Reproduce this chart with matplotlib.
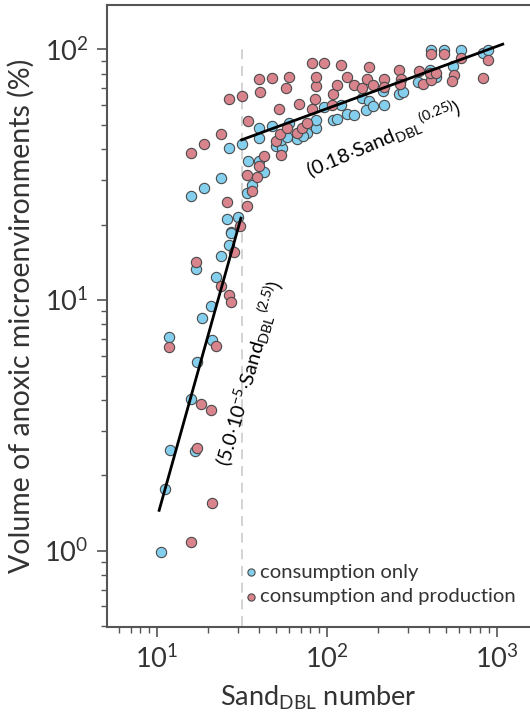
import matplotlib
matplotlib.use("Agg")
from matplotlib import pyplot as plt

plt.rcParams["font.family"] = ["Lato", "DejaVu Sans"]
plt.rcParams["mathtext.fontset"] = "custom"
plt.rcParams["mathtext.rm"] = "Lato"
plt.rcParams["mathtext.it"] = "Lato:italic"
plt.rcParams["mathtext.bf"] = "Lato:bold"

# consumption only
cons_x = [26.6, 31.5, 15.8, 18.9, 23.7, 34.2, 33.7, 36.1, 40.0, 42.6, 30.2, 25.9, 27.4,
          40.0, 40.0, 47.5, 50.1, 54.8, 53.4, 59.5, 57.9, 66.8, 76.6, 72.6, 86.9, 86.1,
          95.9, 121, 109, 114, 131, 144, 162, 176, 171, 186, 217, 215, 266, 279, 346,
          403, 438, 413, 490, 620, 553, 830, 889,
          27.2, 26.4, 23.9, 16.9, 22.3, 20.8, 18.3, 11.8, 21.1, 17.1, 15.9, 12.0, 16.7,
          11.1, 10.5]
cons_y = [40.4, 41.7, 26.0, 27.9, 30.6, 35.7, 26.8, 28.7, 35.7, 32.4, 21.5, 21.1, 18.7,
          48.4, 44.3, 49.5, 41.2, 40.3, 43.5, 50.7, 44.6, 43.8, 46.3, 45.1, 48.4, 52.3,
          58.7, 59.8, 52.3, 52.6, 55.1, 54.6, 63.8, 62.1, 57.3, 59.1, 59.8, 68.4, 66.4,
          67.4, 74.3, 82.7, 77.3, 99.4, 99.4, 99.4, 85.8, 96.9, 99.4,
          18.5, 16.5, 15.0, 13.3, 12.3, 9.46, 8.50, 7.14, 6.95, 5.64, 4.04, 2.52, 2.49,
          1.77, 0.987]

# consumption and production
prod_x = [15.8, 18.9, 23.7, 26.6, 31.5, 34.2, 25.9, 33.7, 36.1, 38.6, 40.0, 42.6, 33.9,
          31.0, 40.2, 40.0, 47.5, 59.8, 57.6, 52.0, 68.2, 50.1, 52.7, 53.4, 58.3, 66.8,
          71.3, 76.6, 81.3, 107, 85.3, 109, 114, 86.1, 86.1, 81.3, 95.9, 121, 131, 144,
          162, 176, 173, 186, 217, 217, 266, 275, 271, 348, 366, 409, 407, 438, 413,
          490, 620, 561, 548, 830, 889,
          28.4, 16.9, 23.9, 26.4, 27.1, 11.8, 22.4, 18.2, 20.8, 17.1, 21.1, 15.9]
prod_y = [38.5, 41.8, 45.7, 63.2, 65.0, 51.5, 24.5, 31.4, 27.3, 30.9, 34.3, 37.6, 23.8,
          19.8, 67.4, 76.4, 77.1, 77.8, 69.9, 57.5, 60.5, 43.2, 45.7, 37.8, 48.4, 46.3,
          48.7, 50.7, 57.7, 59.8, 63.2, 66.4, 72.1, 71.4, 77.8, 87.9, 87.9, 86.6, 77.3,
          72.3, 69.9, 85.2, 76.4, 72.3, 76.2, 70.6, 82.7, 75.9, 72.7, 81.7, 72.7, 75.5,
          80.7, 80.3, 95.5, 95.5, 92.6, 79.0, 74.6, 76.6, 90.6,
          15.6, 14.2, 11.4, 10.5, 9.85, 6.47, 6.58, 3.85, 3.65, 2.56, 1.55, 1.08]

# fitted power laws, drawn between their end points
fit_low_x = [10.3, 31.2]
fit_low_y = [1.45, 21.2]
fit_high_x = [31.5, 1085]
fit_high_y = [43.5, 104.7]
threshold = 31.5

blue = "#84cfee"
pink = "#d9838c"

fig = plt.figure(figsize=(5.30, 7.19), dpi=100)
ax = fig.add_axes([0.2013, 0.128, 0.7987, 0.865])

ax.plot([threshold, threshold], [0.5, 106], color="#cccccc", lw=1.2, ls=(0, (6, 4)), zorder=1)
ax.scatter(cons_x, cons_y, s=55, c=blue, edgecolors="#4a4a4a", linewidths=0.8,
           label="consumption only", zorder=3)
ax.scatter(prod_x, prod_y, s=55, c=pink, edgecolors="#4a4a4a", linewidths=0.8,
           label="consumption and production", zorder=3)
ax.plot(fit_low_x, fit_low_y, color="black", lw=2, zorder=4)
ax.plot(fit_high_x, fit_high_y, color="black", lw=2, zorder=4)

ax.set_xscale("log")
ax.set_yscale("log")
ax.set_xlim(5.06, 1570)
ax.set_ylim(0.497, 150)

ax.text(215, 44.0, r"(0.18$\cdot$Sand$_{\mathrm{DBL}}$$^{\,\mathrm{(0.25)}}$)", fontsize=14.5,
        rotation=23, ha="center", va="center", rotation_mode="anchor")
ax.text(35.2, 5.13, r"(5.0$\cdot$10$^{\mathrm{-5}}$$\cdot$Sand$_{\mathrm{DBL}}$$^{\,\mathrm{(2.5)}}$)",
        fontsize=14.5, rotation=74, ha="center", va="center", rotation_mode="anchor")

ax.set_xlabel(r"Sand$_{\mathrm{DBL}}$ number", fontsize=19.5, color="#333333", labelpad=8)
ax.set_ylabel("Volume of anoxic microenvironments (%)", fontsize=20.5, color="#333333",
              labelpad=7)

for side in ["left", "bottom", "top"]:
    ax.spines[side].set_color("#555555")
    ax.spines[side].set_linewidth(1.5)
ax.spines["right"].set_visible(False)
ax.tick_params(which="major", length=7, width=1.2, color="#555555", labelsize=19.5,
               labelcolor="#333333", pad=6)
ax.tick_params(which="minor", length=4, width=1.0, color="#555555")

leg = ax.legend(loc="upper left", bbox_to_anchor=(0.3, 0.115), frameon=False,
                fontsize=14.6, markerscale=0.7, handletextpad=0.0, borderaxespad=0,
                labelspacing=0.35, handlelength=0.9, labelcolor="#333333")

fig.savefig("out.png", dpi=100)
